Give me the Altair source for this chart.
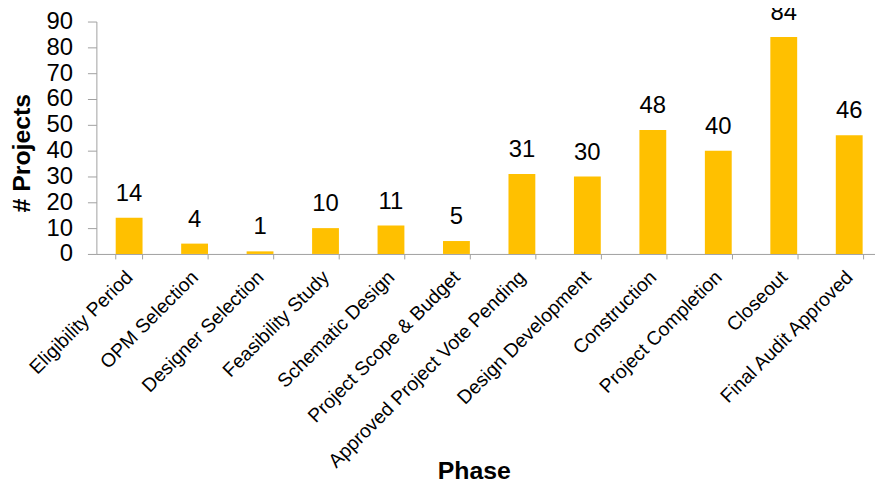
import altair as alt
import pandas as pd

phases = [
    "Eligibility Period", "OPM Selection", "Designer Selection", "Feasibility Study",
    "Schematic Design", "Project Scope & Budget", "Approved Project Vote Pending",
    "Design Development", "Construction", "Project Completion", "Closeout",
    "Final Audit Approved",
]
projects = [14, 4, 1, 10, 11, 5, 31, 30, 48, 40, 84, 46]
y_ticks = [0, 10, 20, 30, 40, 50, 60, 70, 80, 90]

df = pd.DataFrame({"phase": phases, "projects": projects})

FONT = "Liberation Sans"
AXIS_GREY = "#A0A0A0"

x_enc = alt.X(
    "phase:N",
    sort=None,
    title="Phase",
    scale=alt.Scale(paddingInner=0.59, paddingOuter=0.295),
    axis=alt.Axis(
        labelAngle=-45,
        labelAlign="right",
        labelBaseline="middle",
        labelFontSize=19.5,
        labelFont=FONT,
        labelColor="black",
        labelPadding=15,
        labelLimit=500,
        tickSize=5,
        tickBand="extent",
        tickColor=AXIS_GREY,
        domainColor=AXIS_GREY,
        titleFontSize=25,
        titleFont=FONT,
        titleFontWeight="bold",
        titleColor="black",
        titleX=380,
        titleY=226,
        titleAlign="center",
        titleBaseline="alphabetic",
        grid=False,
        labelOverlap=False,
    ),
)

y_enc = alt.Y(
    "projects:Q",
    title="# Projects",
    scale=alt.Scale(domain=[0, 90], nice=False),
    axis=alt.Axis(
        values=y_ticks,
        labelFontSize=24,
        labelFont=FONT,
        labelColor="black",
        labelPadding=15,
        tickSize=9,
        tickColor=AXIS_GREY,
        domainColor=AXIS_GREY,
        titleFontSize=25,
        titleFont=FONT,
        titleFontWeight="bold",
        titleColor="black",
        titleAngle=-90,
        titleX=-75,
        titleY=132,
        titleAlign="center",
        titleBaseline="middle",
        grid=False,
    ),
)

base = alt.Chart(df).encode(x=x_enc, y=y_enc)

bars = base.mark_bar(color="#FFC000")
labels = base.mark_text(
    baseline="alphabetic", dy=-17, fontSize=24, font=FONT, color="black"
).encode(text="projects:Q")

chart = (
    alt.layer(bars, labels)
    .properties(
        width=791,
        height=234,
        autosize=alt.AutoSizeParams(type="none"),
        padding={"left": 89, "top": 12, "right": -7, "bottom": 229},
        background="white",
    )
    .configure_view(stroke=None)
)

chart.save("out.html", embed_options={"renderer": "svg", "actions": False})
